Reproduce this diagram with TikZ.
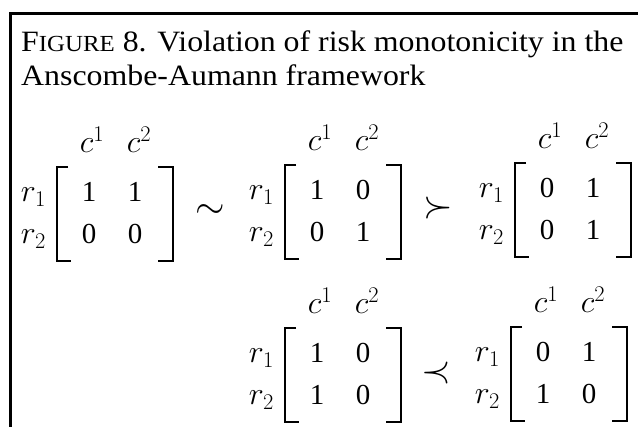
\RequirePackage{fix-cm}
\documentclass[tikz,border=0pt]{standalone}
\usepackage{fontspec}
\setmainfont{Liberation Serif}
\newfontfamily\capfont{Liberation Serif}[FakeStretch=1.08]
\usepackage{tikz}
\usetikzlibrary{positioning}

\tikzset{
  frameline/.style={line width=2.8pt},
  bracket/.style={line width=1.3pt},
  caption/.style={anchor=base west, inner sep=0pt, font=\fontsize{29.5}{34}\selectfont\capfont},
  entry/.style={anchor=base, inner sep=0pt, font=\fontsize{29}{33}\selectfont},
  lbl/.style={anchor=base, inner sep=0pt, font=\fontsize{32}{36}\selectfont},
  rel/.style={inner sep=0pt, font=\fontsize{38}{42}\selectfont}
}

\begin{document}
\begin{tikzpicture}[x=1pt, y=-1pt]
    \useasboundingbox (0,0) rectangle (638,427);

    % open frame
    \coordinate (fbot) at (10.5,430);
    \coordinate (fcorner) at (10.5,13.5);
    \coordinate (fright) at (640,13.5);
    \draw[frameline] (fbot) -- (fcorner) -- (fright);

    % caption
    \node[caption] (capA) at (21,52) {F{\fontsize{23}{26}\selectfont IGURE} 8. Violation of risk monotonicity in the};
    \node[caption] (capB) at (21,86) {Anscombe-Aumann framework};

    % matrices
    \foreach \nm/\bx/\by/\pa/\pb/\pc/\pd in {A/57/167/1/1/0/0, B/285/165/1/0/0/1, C/515/163/0/1/0/1, D/285/328/1/0/1/0, E/511/327/0/1/1/0} {
        \draw[bracket] (\bx+11,\by) -- (\bx,\by) -- (\bx,\by+94) -- (\bx+14,\by+94);
        \draw[bracket] (\bx+101,\by) -- (\bx+116,\by) -- (\bx+116,\by+94) -- (\bx+101,\by+94);
        \node[lbl] (\nm-c1) at (\bx+35,\by-14) {$c^1$};
        \node[lbl] (\nm-c2) at (\bx+82,\by-14) {$c^2$};
        \node[lbl, anchor=base east] (\nm-r1) at (\bx-11,\by+35) {$r_1$};
        \node[lbl, anchor=base east] (\nm-r2) at (\bx-11,\by+77) {$r_2$};
        \node[entry] (\nm-11) at (\bx+32,\by+35) {\pa};
        \node[entry] (\nm-12) at (\bx+78,\by+35) {\pb};
        \node[entry] (\nm-21) at (\bx+32,\by+77) {\pc};
        \node[entry] (\nm-22) at (\bx+78,\by+77) {\pd};
    }

    % relations
    \node[rel] (simAB) at (210,212) {$\sim$};
    \node[rel] (succBC) at (438,208) {$\succ$};
    \node[rel] (precDE) at (436,373) {$\prec$};
\end{tikzpicture}
\end{document}
